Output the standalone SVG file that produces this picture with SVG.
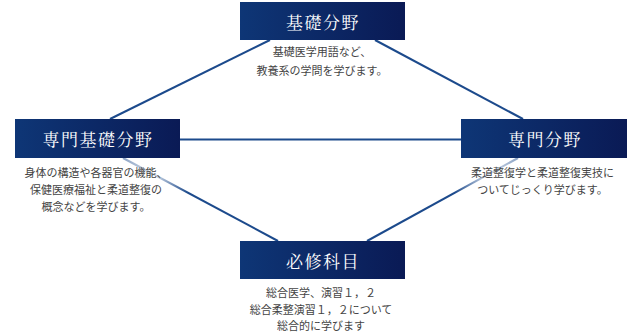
<svg xmlns="http://www.w3.org/2000/svg" width="640" height="335" viewBox="0 0 640 335">
<style>
.box{fill:url(#boxg);}
.title{font-family:"Noto Serif CJK JP","Noto Sans CJK JP",serif;font-size:17px;fill:#ffffff;text-anchor:middle;dominant-baseline:central;letter-spacing:1.5px;}
.desc{font-family:"Noto Sans CJK JP","Noto Sans",sans-serif;font-size:11px;fill:#444444;text-anchor:middle;}
.ln{stroke:#1c4a8c;stroke-width:2;fill:none;}
</style>
<defs>
<linearGradient id="boxg" x1="0" y1="0" x2="1" y2="0">
<stop offset="0" stop-color="#0e3676"/>
<stop offset="1" stop-color="#0a1a55"/>
</linearGradient>
<linearGradient id="fadeL" gradientUnits="userSpaceOnUse" x1="123" y1="158" x2="278" y2="241">
<stop offset="0" stop-color="#1c4a8c" stop-opacity="0.5"/>
<stop offset="0.2" stop-color="#1c4a8c" stop-opacity="0.2"/>
<stop offset="0.42" stop-color="#1c4a8c" stop-opacity="1"/>
<stop offset="1" stop-color="#1c4a8c"/>
</linearGradient>
<linearGradient id="fadeR" gradientUnits="userSpaceOnUse" x1="518" y1="158" x2="367" y2="241">
<stop offset="0" stop-color="#1c4a8c" stop-opacity="0.5"/>
<stop offset="0.2" stop-color="#1c4a8c" stop-opacity="0.2"/>
<stop offset="0.42" stop-color="#1c4a8c" stop-opacity="1"/>
<stop offset="1" stop-color="#1c4a8c"/>
</linearGradient>
</defs>
<g id="connectors">
<line class="ln" x1="110" y1="119" x2="270" y2="40"/>
<line class="ln" x1="375" y1="40" x2="523" y2="119"/>
<line class="ln" x1="180" y1="139.5" x2="461" y2="139.5"/>
<line class="ln" style="stroke:url(#fadeL)" x1="123" y1="158" x2="278" y2="241"/>
<line class="ln" style="stroke:url(#fadeR)" x1="518" y1="158" x2="367" y2="241"/>
</g>
<g id="kiso">
<rect class="box" x="240" y="2" width="165" height="38"/>
<text class="title" x="323" y="21">基礎分野</text>
<text class="desc" x="322" y="56">基礎医学用語など、</text>
<text class="desc" x="322" y="75">教養系の学問を学びます。</text>
</g>
<g id="senmonkiso">
<rect class="box" x="15" y="119" width="165" height="39"/>
<text class="title" x="98" y="138.5">専門基礎分野</text>
<text class="desc" x="96" y="177">身体の構造や各器官の機能、</text>
<text class="desc" x="96" y="194">保健医療福祉と柔道整復の</text>
<text class="desc" x="96" y="211">概念などを学びます。</text>
</g>
<g id="senmon">
<rect class="box" x="461" y="119" width="166" height="39"/>
<text class="title" x="545" y="138.5">専門分野</text>
<text class="desc" x="542.5" y="177">柔道整復学と柔道整復実技に</text>
<text class="desc" x="542.5" y="194">ついてじっくり学びます。</text>
</g>
<g id="hisshu">
<rect class="box" x="240" y="241" width="165" height="38"/>
<text class="title" x="323" y="260">必修科目</text>
<text class="desc" x="321" y="297">総合医学、演習１，２</text>
<text class="desc" x="321" y="314">総合柔整演習１，２について</text>
<text class="desc" x="321" y="330">総合的に学びます</text>
</g>
</svg>
